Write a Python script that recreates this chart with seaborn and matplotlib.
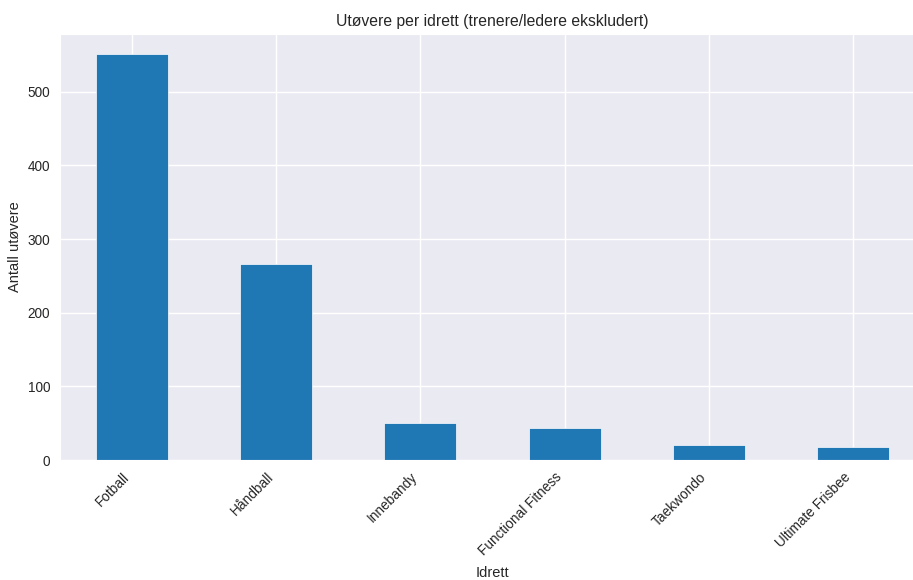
import matplotlib
matplotlib.use("Agg")
import matplotlib.pyplot as plt
import seaborn as sns

# Utøvere per idrett
idretter = ["Fotball", "Håndball", "Innebandy", "Functional Fitness", "Taekwondo", "Ultimate Frisbee"]
antall = [551, 266, 50, 44, 21, 18]

sns.set_style("darkgrid")
plt.rcParams["font.family"] = ["Liberation Sans", "DejaVu Sans"]

fig = plt.figure(figsize=(9.13, 5.8), dpi=100)
ax = fig.add_axes([60 / 913, 120 / 580, 865 / 913, 426 / 580])

sns.barplot(x=idretter, y=antall, color="#1f77b4", saturation=1, width=0.5,
            edgecolor="w", linewidth=0.5, ax=ax, zorder=2)
ax.grid(True, axis="both", color="white", linewidth=1)
ax.set_axisbelow(True)

ax.set_title("Utøvere per idrett (trenere/ledere ekskludert)", fontsize=11.3)
ax.set_xlabel("Idrett", fontsize=10.5, labelpad=6)
ax.set_ylabel("Antall utøvere", fontsize=10.5)
plt.setp(ax.get_xticklabels(), rotation=45, ha="right", fontsize=9.8)
plt.setp(ax.get_yticklabels(), fontsize=9.8)

fig.savefig("out.png", dpi=100)
plt.close()
